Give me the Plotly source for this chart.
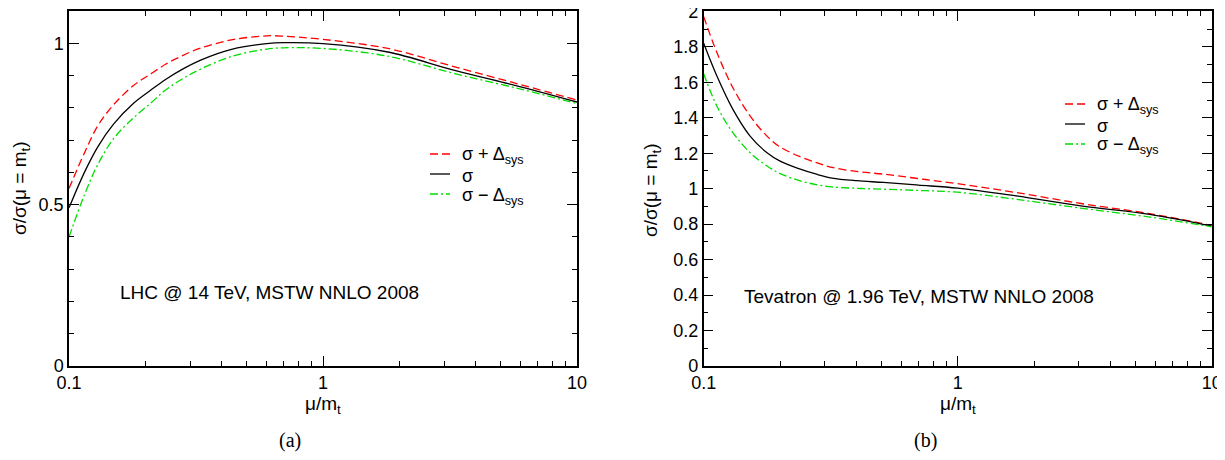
import plotly.graph_objects as go

# ── data ─────────────────────────────────────────────────────
# (a) LHC @ 14 TeV
lhc_mu = [0.1, 0.115, 0.13, 0.15, 0.18, 0.21, 0.24, 0.28, 0.33, 0.44, 0.6, 0.7,
          1.0, 1.8, 3.3, 6.0, 10]
lhc_sig = [0.49, 0.60, 0.68, 0.75, 0.815, 0.855, 0.888, 0.92, 0.948, 0.982, 0.999, 1.002,
           0.999, 0.973, 0.916, 0.865, 0.818]
lhc_up = [0.55, 0.66, 0.745, 0.81, 0.87, 0.905, 0.935, 0.962, 0.985, 1.011, 1.023, 1.022,
          1.012, 0.984, 0.927, 0.872, 0.824]
lhc_dn = [0.40, 0.53, 0.625, 0.705, 0.77, 0.815, 0.855, 0.89, 0.92, 0.96, 0.982, 0.986,
          0.984, 0.960, 0.906, 0.858, 0.813]

# (b) Tevatron @ 1.96 TeV
tev_mu = [0.1, 0.1125, 0.13, 0.152, 0.177, 0.2, 0.24, 0.28, 0.32, 0.4, 0.51, 0.7,
          1.0, 1.7, 3.1, 5.7, 10]
tev_sig = [1.82, 1.638, 1.45, 1.298, 1.204, 1.155, 1.11, 1.08, 1.06, 1.045, 1.035, 1.02,
           1.003, 0.959, 0.902, 0.855, 0.789]
tev_up = [1.97, 1.771, 1.572, 1.412, 1.298, 1.235, 1.18, 1.145, 1.12, 1.097, 1.082, 1.057,
          1.028, 0.978, 0.915, 0.859, 0.793]
tev_dn = [1.648, 1.468, 1.318, 1.204, 1.129, 1.085, 1.044, 1.022, 1.01, 1.002, 0.997, 0.99,
          0.980, 0.940, 0.889, 0.840, 0.785]

x_ticks = [0.1, 1, 10]
x_ticktext = ["0.1", "1", "10"]
x_minor = [0.2, 0.3, 0.4, 0.5, 0.6, 0.7, 0.8, 0.9, 2, 3, 4, 5, 6, 7, 8, 9]
lhc_yticks = [0, 0.5, 1]
lhc_yticktext = ["0", "0.5", "1"]
tev_yticks = [0, 0.2, 0.4, 0.6, 0.8, 1, 1.2, 1.4, 1.6, 1.8, 2]
tev_yticktext = ["0", "0.2", "0.4", "0.6", "0.8", "1", "1.2", "1.4", "1.6", "1.8", "2"]

names = ["σ + Δ<sub>sys</sub>", "σ", "σ − Δ<sub>sys</sub>"]

FONT = "Liberation Sans, Arial, sans-serif"
# page has an 8px body margin, so the figure is shifted by OFF
OFF = 8
FW, FH = 1225 - OFF, 460 - 2 * OFF


def px(X):
    return (X - OFF) / FW


def py(Y):
    return 1 - (Y - OFF) / FH


# ── styles ───────────────────────────────────────────────────
styles = [
    dict(color="#ff0000", width=1.3, dash="8px,4px"),
    dict(color="#000000", width=1.3),
    dict(color="#00dd00", width=1.3, dash="8px,3px,2px,3px"),
]


def _xaxis(domain, anchor):
    return dict(
        type="log", range=[-1, 1], domain=domain, anchor=anchor, automargin=False,
        tickmode="array", tickvals=x_ticks, ticktext=x_ticktext,
        ticks="inside", ticklen=10, tickwidth=1, tickcolor="black",
        ticklabeloverflow="allow",
        minor=dict(ticks="inside", ticklen=5, tickcolor="black",
                   tickmode="array", tickvals=x_minor, showgrid=False),
        showline=True, linecolor="black", linewidth=1.5, mirror="allticks",
        showgrid=False, zeroline=False,
        tickfont=dict(family=FONT, size=18, color="black"),
    )


def _yaxis(domain, anchor, rng, tickvals, ticktext):
    return dict(
        range=rng, domain=domain, anchor=anchor, automargin=False,
        tickmode="array", tickvals=tickvals, ticktext=ticktext,
        ticks="inside", ticklen=10, tickwidth=1, tickcolor="black",
        ticklabeloverflow="allow",
        minor=dict(ticks="inside", ticklen=5, tickcolor="black",
                   dtick=0.1, tick0=0, showgrid=False),
        showline=True, linecolor="black", linewidth=1.5, mirror="allticks",
        showgrid=False, zeroline=False,
        tickfont=dict(family=FONT, size=18, color="black"),
    )


fig = go.Figure()

for ys, st, nm in zip([lhc_up, lhc_sig, lhc_dn], styles, names):
    fig.add_trace(go.Scatter(
        x=lhc_mu, y=ys, name=nm, mode="lines", line=dict(shape="spline", **st),
        xaxis="x", yaxis="y", showlegend=False,
    ))

for ys, st, nm in zip([tev_up, tev_sig, tev_dn], styles, names):
    fig.add_trace(go.Scatter(
        x=tev_mu, y=ys, name=nm, mode="lines", line=dict(shape="spline", **st),
        xaxis="x2", yaxis="y2", showlegend=False,
    ))

ydom = [py(366), py(11)]

fig.update_layout(
    width=FW, height=FH,
    margin=dict(l=0, r=0, t=0, b=0),
    paper_bgcolor="white", plot_bgcolor="white",
    xaxis=_xaxis([px(69), px(577)], "y"),
    yaxis=_yaxis(ydom, "x", [0, 1.1], lhc_yticks, lhc_yticktext),
    xaxis2=_xaxis([px(703.7), px(1211.7)], "y2"),
    yaxis2=_yaxis(ydom, "x2", [0, 2.002], tev_yticks, tev_yticktext),
)

ann_font = dict(family=FONT, size=19, color="black")
leg_font = dict(family=FONT, size=18, color="black")
title_font = dict(family=FONT, size=19, color="black")
cap_font = dict(family="Liberation Serif, Times New Roman, serif", size=20, color="black")

annotations = [
    dict(text="LHC @ 14 TeV, MSTW NNLO 2008", x=px(118), y=py(292),
         xanchor="left", yanchor="middle", font=ann_font),
    dict(text="Tevatron @ 1.96 TeV, MSTW NNLO 2008", x=px(742), y=py(296),
         xanchor="left", yanchor="middle", font=ann_font),
    dict(text="μ/m<sub>t</sub>", x=px(323), y=py(405),
         xanchor="center", yanchor="middle", font=title_font),
    dict(text="μ/m<sub>t</sub>", x=px(958), y=py(405),
         xanchor="center", yanchor="middle", font=title_font),
    dict(text="σ/σ(μ = m<sub>t</sub>)", x=px(21), y=py(188), textangle=-90,
         xanchor="center", yanchor="middle", font=title_font),
    dict(text="σ/σ(μ = m<sub>t</sub>)", x=px(652), y=py(190), textangle=-90,
         xanchor="center", yanchor="middle", font=title_font),
    dict(text="(a)", x=px(290), y=py(440),
         xanchor="center", yanchor="middle", font=cap_font),
    dict(text="(b)", x=px(925), y=py(440),
         xanchor="center", yanchor="middle", font=cap_font),
]

# ── hand-made legends (one per panel) ────────────────────────
shapes = []
legend_pos = [(430, [154, 174, 194]), (1065, [104, 124, 144])]
for lx, rows in legend_pos:
    for st, nm, ly in zip(styles, names, rows):
        shapes.append(dict(
            type="line", xref="paper", yref="paper",
            x0=px(lx), x1=px(lx + 20), y0=py(ly), y1=py(ly),
            line=dict(color=st["color"], width=st["width"], dash=st.get("dash", "solid")),
        ))
        annotations.append(dict(
            text=nm, x=px(lx + 30), y=py(ly + 2),
            xanchor="left", yanchor="middle", font=leg_font,
        ))

for a in annotations:
    a.update(xref="paper", yref="paper", showarrow=False)
fig.update_layout(annotations=annotations, shapes=shapes)

fig.write_html("out.html")
